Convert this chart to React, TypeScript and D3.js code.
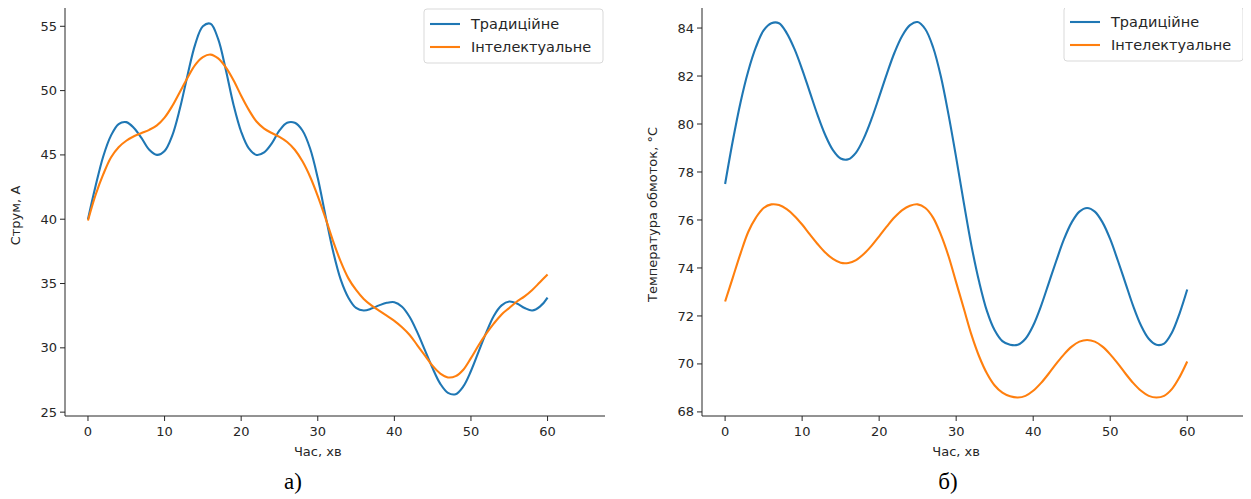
import React from "react";
import * as d3 from "d3";

// time axis, minutes
const minutes = d3.range(0, 61);

// current, A (chart a)
const currentTraditional = [
  40.0, 42.6, 44.9, 46.5, 47.4, 47.55, 47.1, 46.3, 45.4, 45.0,
  45.3, 46.5, 48.6, 51.2, 53.6, 55.0, 55.2, 54.0, 51.6, 48.9,
  46.8, 45.5, 45.0, 45.2, 45.9, 46.9, 47.5, 47.5, 46.9, 45.5,
  43.2, 40.3, 37.5, 35.3, 33.9, 33.1, 32.9, 33.05, 33.3, 33.5,
  33.55, 33.2, 32.4, 31.2, 29.8, 28.4, 27.2, 26.5, 26.4, 27.0,
  28.2, 29.7, 31.2, 32.5, 33.3, 33.6, 33.45, 33.1, 32.9, 33.2,
  33.9,
];
const currentIntelligent = [
  39.9, 41.9, 43.5, 44.8, 45.6, 46.1, 46.45, 46.7, 46.95, 47.3,
  47.9, 48.8, 49.9, 51.0, 52.0, 52.6, 52.8, 52.5, 51.8, 50.8,
  49.6, 48.5, 47.6, 47.05, 46.7, 46.4, 46.0, 45.4, 44.5, 43.3,
  41.8, 40.1, 38.3, 36.7, 35.4, 34.5, 33.8, 33.3, 32.9, 32.5,
  32.1, 31.6, 31.0, 30.2, 29.4, 28.6, 28.0, 27.7, 27.8, 28.3,
  29.2, 30.2, 31.1, 31.9, 32.6, 33.1, 33.6, 34.0, 34.5, 35.1,
  35.7,
];

// winding temperature, °C (chart b)
const tempTraditional = [
  77.5, 79.3, 80.9, 82.2, 83.2, 83.9, 84.2, 84.2, 83.79, 83.13,
  82.28, 81.33, 80.38, 79.54, 78.91, 78.56, 78.53, 78.81, 79.4, 80.2,
  81.13, 82.09, 82.98, 83.68, 84.12, 84.25, 83.95, 83.2, 82.0, 80.4,
  78.6, 76.7, 74.9, 73.4, 72.2, 71.4, 70.95, 70.8, 70.8, 71.05,
  71.6, 72.4, 73.35, 74.3, 75.2, 75.9, 76.35, 76.5, 76.35, 75.9,
  75.2, 74.3, 73.35, 72.4, 71.6, 71.05, 70.8, 70.85, 71.3, 72.1,
  73.1,
];
const tempIntelligent = [
  72.6, 73.6, 74.6, 75.5, 76.1, 76.5, 76.65, 76.62, 76.45, 76.17,
  75.81, 75.4, 75.0, 74.64, 74.38, 74.22, 74.21, 74.33, 74.58, 74.92,
  75.32, 75.73, 76.11, 76.41, 76.59, 76.65, 76.5, 76.1, 75.4, 74.5,
  73.4, 72.3, 71.2, 70.3, 69.6, 69.1, 68.8, 68.65, 68.6, 68.67,
  68.88, 69.2, 69.59, 70.01, 70.4, 70.72, 70.93, 71.0, 70.93, 70.72,
  70.4, 70.01, 69.59, 69.2, 68.88, 68.67, 68.6, 68.67, 68.95, 69.45,
  70.1,
];

const seriesNames = ["Традиційне", "Інтелектуальне"];
const colors = ["#1f77b4", "#ff7f0e"];
const xTicks = [0, 10, 20, 30, 40, 50, 60];
const currentTicks = [25, 30, 35, 40, 45, 50, 55];
const tempTicks = [68, 70, 72, 74, 76, 78, 80, 82, 84];

const FONT = "DejaVu Sans, sans-serif";
const INK = "#262626";

type PanelProps = {
  left: number;
  right: number;
  top: number;
  bottom: number;
  yDomain: [number, number];
  yTicks: number[];
  series: number[][];
  yLabel: string;
  yLabelX: number;
  caption: string;
  captionX: number;
};

const Panel = ({ left, right, top, bottom, yDomain, yTicks, series, yLabel, yLabelX, caption, captionX }: PanelProps) => {
  const x = d3.scaleLinear().domain([-3, 67.5]).range([left, right]);
  const y = d3.scaleLinear().domain(yDomain).range([bottom, top]);
  const line = d3
    .line<number>()
    .x((_, i) => x(minutes[i]))
    .y((d) => y(d))
    .curve(d3.curveCatmullRom.alpha(0.5));

  const midX = (x(0) + x(60)) / 2;

  return (
    <g>
      {series.map((s, i) => (
        <path key={i} d={line(s) || ""} fill="none" stroke={colors[i]} strokeWidth={2.1} />
      ))}

      {/* spines */}
      <line x1={left} x2={left} y1={top} y2={bottom} stroke={INK} strokeWidth={1} />
      <line x1={left} x2={right} y1={bottom} y2={bottom} stroke={INK} strokeWidth={1} />

      {/* y ticks */}
      {yTicks.map((t) => (
        <g key={t} transform={`translate(${left},${y(t)})`}>
          <line x1={-5} x2={0} stroke={INK} />
          <text x={-8} dy="0.35em" textAnchor="end" fontSize={13} fontFamily={FONT} fill={INK}>
            {t}
          </text>
        </g>
      ))}

      {/* x ticks */}
      {xTicks.map((t) => (
        <g key={t} transform={`translate(${x(t)},${bottom})`}>
          <line y1={0} y2={5} stroke={INK} />
          <text y={20} textAnchor="middle" fontSize={13} fontFamily={FONT} fill={INK}>
            {t}
          </text>
        </g>
      ))}

      <text x={midX} y={bottom + 40} textAnchor="middle" fontSize={13} fontFamily={FONT} fill={INK}>
        Час, хв
      </text>
      <text
        transform={`translate(${yLabelX},${(top + bottom) / 2 + 4}) rotate(-90)`}
        textAnchor="middle"
        fontSize={13}
        fontFamily={FONT}
        fill={INK}
      >
        {yLabel}
      </text>

      <text x={captionX} y={bottom + 73} textAnchor="middle" fontSize={23} fontFamily="Liberation Serif, Times New Roman, serif" fill="#000">
        {caption}
      </text>

      {/* legend */}
      <g transform={`translate(${right - 181},${top + 2})`}>
        <rect x={0} y={0} width={179} height={54} rx={3} fill="#fff" stroke="#d9d9d9" />
        {seriesNames.map((name, i) => (
          <g key={name} transform={`translate(0,${15 + i * 23})`}>
            <line x1={6} x2={36} stroke={colors[i]} strokeWidth={2.1} />
            <text x={47} dy="0.35em" fontSize={14.5} fontFamily={FONT} fill={INK}>
              {name}
            </text>
          </g>
        ))}
      </g>
    </g>
  );
};

export default function App() {
  return (
    <svg width={1235} height={491} style={{ display: "block", background: "#fff" }}>
      <g transform="translate(-8,-8)">
        <Panel
          left={65}
          right={605}
          top={7}
          bottom={416}
          yDomain={[24.7, 56.5]}
          yTicks={currentTicks}
          series={[currentTraditional, currentIntelligent]}
          yLabel="Струм, А"
          yLabelX={20}
          caption="а)"
          captionX={293}
        />
        <Panel
          left={702}
          right={1245}
          top={5}
          bottom={416}
          yDomain={[67.83, 84.96]}
          yTicks={tempTicks}
          series={[tempTraditional, tempIntelligent]}
          yLabel="Температура обмоток, °C"
          yLabelX={657}
          caption="б)"
          captionX={948}
        />
      </g>
    </svg>
  );
}
